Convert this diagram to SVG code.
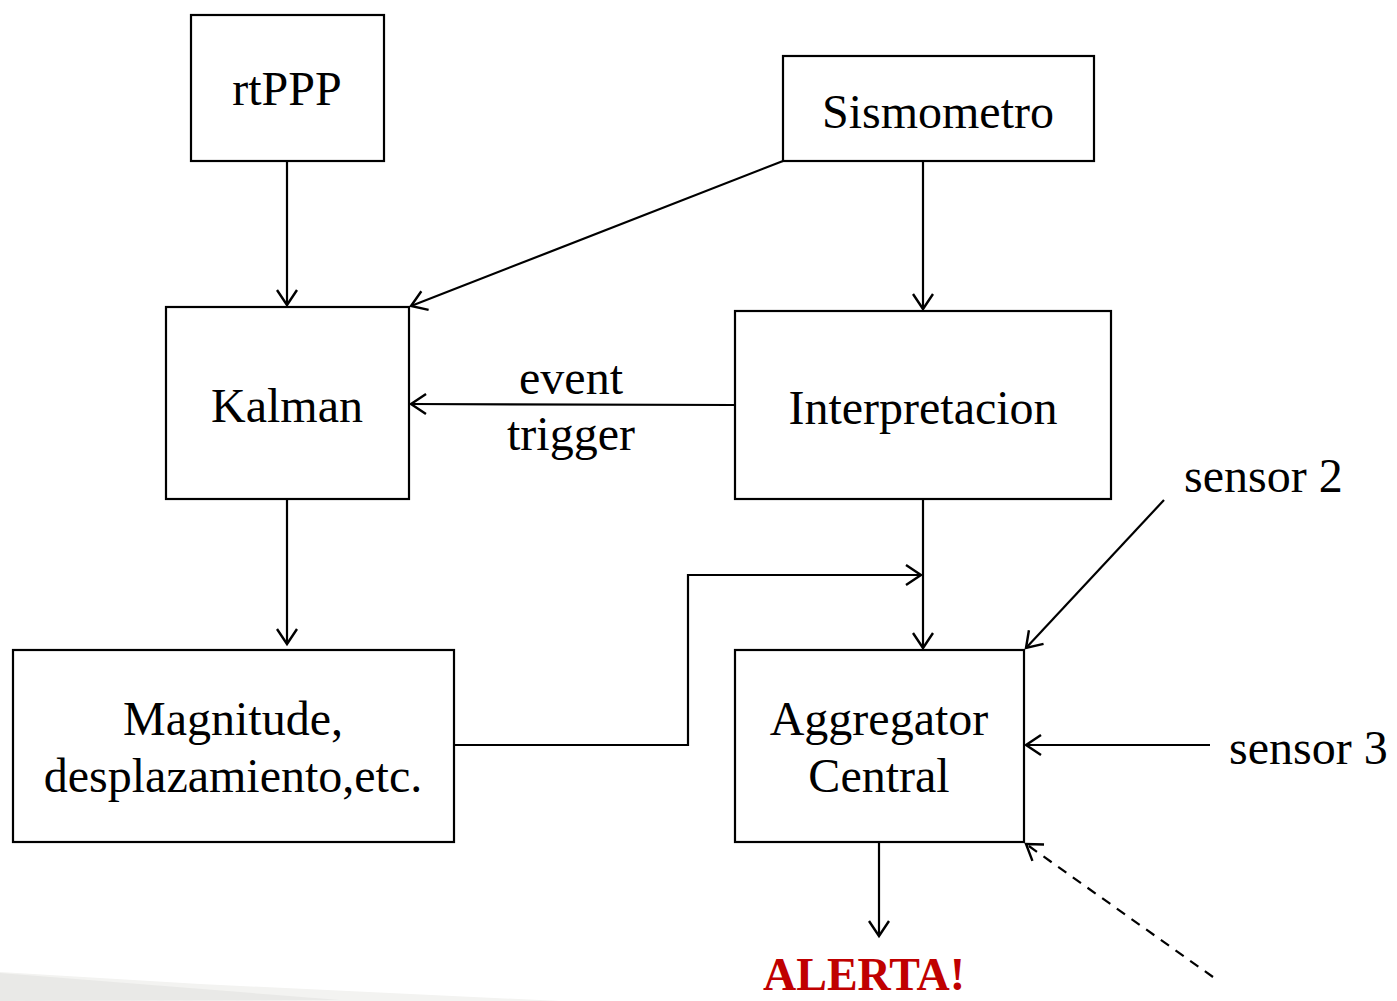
<svg xmlns="http://www.w3.org/2000/svg" width="1397" height="1001" viewBox="0 0 1397 1001">
<style>
.box{fill:#fff;stroke:#000;stroke-width:2.2}
.t{font-family:"Liberation Serif","Times New Roman",serif;font-size:48px;fill:#000}
.c{stroke:#000;stroke-width:2.2;fill:none}
.d{stroke-dasharray:10,8}
</style>
<defs>
<marker id="ah" markerUnits="userSpaceOnUse" markerWidth="24" markerHeight="24" refX="15" refY="10" orient="auto" overflow="visible">
<path d="M0,0 L15,10 L0,20" fill="none" stroke="#000" stroke-width="2.4"/>
</marker>
</defs>
<rect width="1397" height="1001" fill="#fff"/>
<polygon points="0,972 200,984 560,1001 0,1001" fill="#f3f3f1"/>
<polygon points="0,973 340,1000 0,1001" fill="#e9e9e7"/>
<g id="connectors">
<line class="c" x1="287" y1="161" x2="287" y2="305" marker-end="url(#ah)"/>
<line class="c" x1="783" y1="161" x2="411" y2="306" marker-end="url(#ah)"/>
<line class="c" x1="923" y1="161" x2="923" y2="309" marker-end="url(#ah)"/>
<line class="c" x1="735" y1="405" x2="411" y2="404" marker-end="url(#ah)"/>
<line class="c" x1="287" y1="499" x2="287" y2="644" marker-end="url(#ah)"/>
<line class="c" x1="923" y1="499" x2="923" y2="648" marker-end="url(#ah)"/>
<polyline class="c" points="454,745 688,745 688,575 921,575" marker-end="url(#ah)"/>
<line class="c" x1="1164" y1="500" x2="1026" y2="648" marker-end="url(#ah)"/>
<line class="c" x1="1210" y1="745" x2="1026" y2="745" marker-end="url(#ah)"/>
<line class="c d" x1="1213" y1="977" x2="1026" y2="844" marker-end="url(#ah)"/>
<line class="c" x1="879" y1="842" x2="879" y2="936" marker-end="url(#ah)"/>
</g>
<g id="rtPPP"><rect class="box" x="191" y="15" width="193" height="146"/><text class="t" x="287" y="105" text-anchor="middle">rtPPP</text></g>
<g id="sismometro"><rect class="box" x="783" y="56" width="311" height="105"/><text class="t" x="938" y="128" text-anchor="middle">Sismometro</text></g>
<g id="kalman"><rect class="box" x="166" y="307" width="243" height="192"/><text class="t" x="287" y="422" text-anchor="middle">Kalman</text></g>
<g id="interpretacion"><rect class="box" x="735" y="311" width="376" height="188"/><text class="t" x="923" y="424" text-anchor="middle">Interpretacion</text></g>
<g id="magnitude"><rect class="box" x="13" y="650" width="441" height="192"/><text class="t" x="233" y="735" text-anchor="middle">Magnitude,</text><text class="t" x="233" y="792" text-anchor="middle">desplazamiento,etc.</text></g>
<g id="aggregator"><rect class="box" x="735" y="650" width="289" height="192"/><text class="t" x="879" y="735" text-anchor="middle">Aggregator</text><text class="t" x="879" y="792" text-anchor="middle">Central</text></g>
<g id="labels">
<text class="t" x="571" y="394" text-anchor="middle">event</text>
<text class="t" x="571" y="450" text-anchor="middle">trigger</text>
<text class="t" x="1184" y="492">sensor 2</text>
<text class="t" x="1229" y="764">sensor 3</text>
<text class="t" x="864" y="990" text-anchor="middle" font-weight="bold" style="fill:#c00000;font-size:46px">ALERTA!</text>
</g>
</svg>
